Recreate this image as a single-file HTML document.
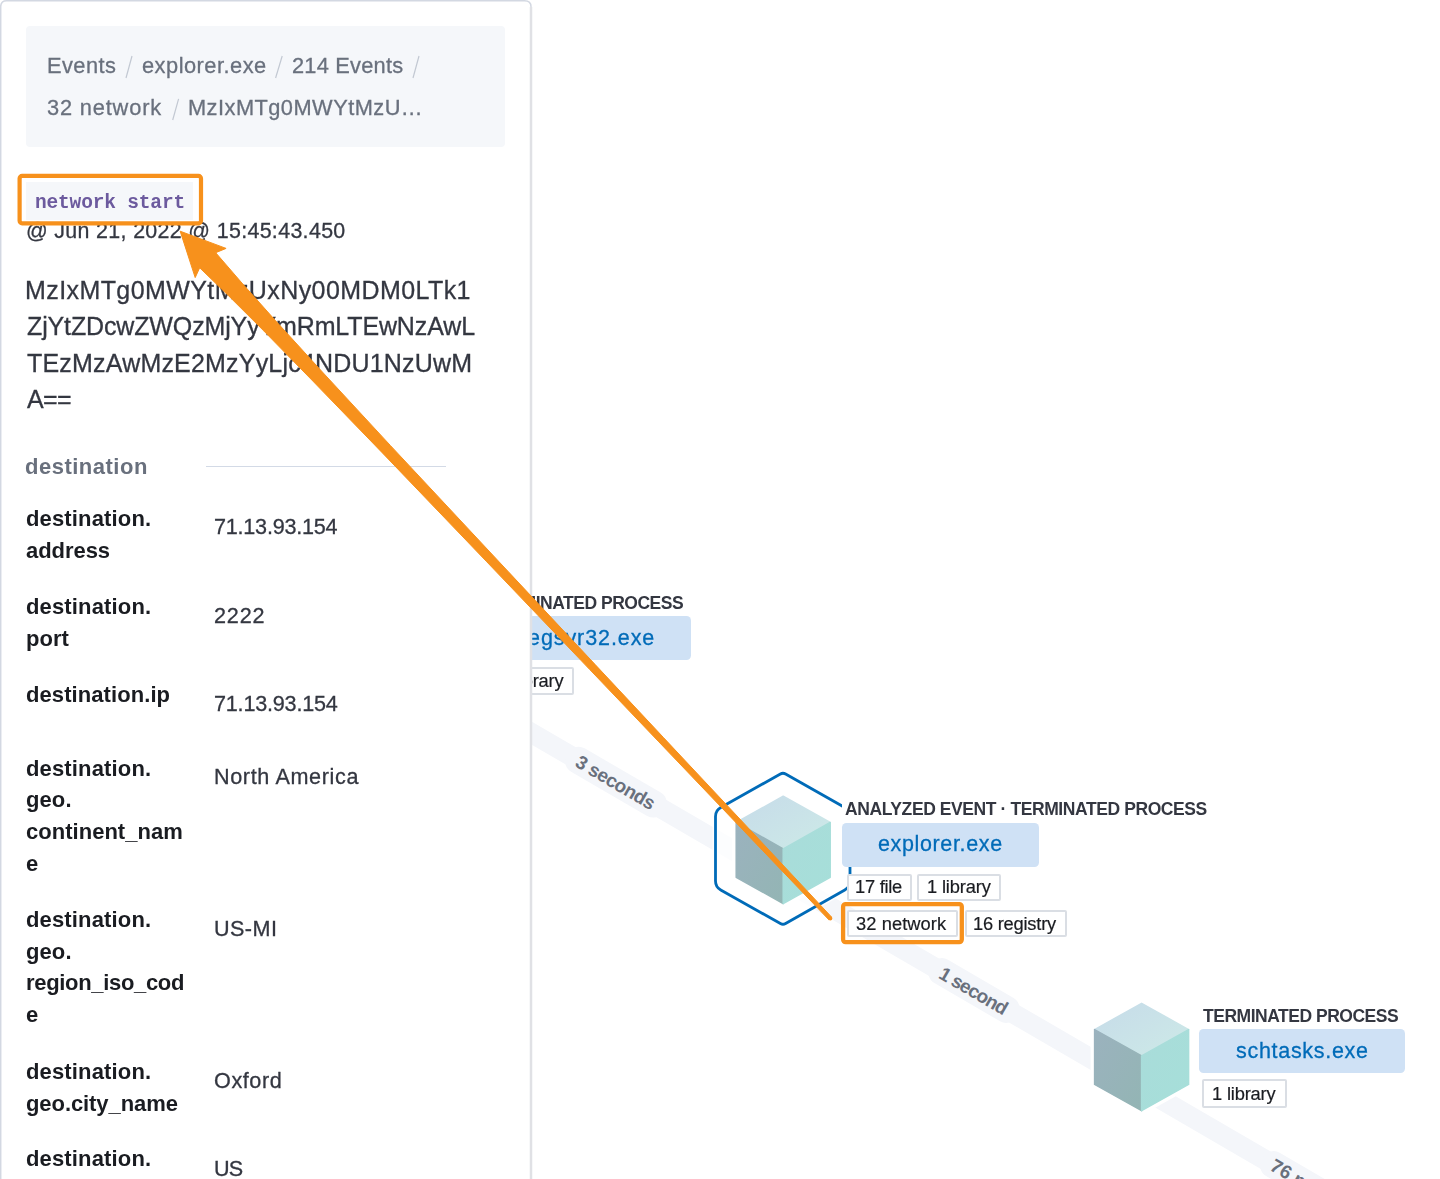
<!DOCTYPE html>
<html><head><meta charset="utf-8"><title>Resolver</title>
<style>
html,body{margin:0;padding:0;}
body{width:1440px;height:1179px;overflow:hidden;background:#ffffff;position:relative;font-family:'Liberation Sans', sans-serif;}
.t{position:absolute;white-space:pre;will-change:transform;}
.abs{position:absolute;}
</style></head><body>
<svg class="abs" style="left:0;top:0" width="1440" height="1179" viewBox="0 0 1440 1179">
<defs>
<linearGradient id="topf" x1="0" y1="0" x2="1" y2="1"><stop offset="0" stop-color="#c6dbe9"/><stop offset="1" stop-color="#cdeae7"/></linearGradient>
<linearGradient id="leftf" x1="0" y1="0" x2="1" y2="1"><stop offset="0" stop-color="#9bb2be"/><stop offset="1" stop-color="#93b5b4"/></linearGradient>
<linearGradient id="rightf" x1="0" y1="0" x2="1" y2="1"><stop offset="0" stop-color="#a9dcda"/><stop offset="1" stop-color="#a6dfd9"/></linearGradient>
</defs>
<line x1="520" y1="726.3" x2="1440" y2="1261.7" stroke="#f4f6fa" stroke-width="20"/>
<g transform="translate(615.9,782.1) rotate(30.2)"><rect x="-56.0" y="-13.5" width="112" height="27" rx="12" fill="#f4f6fa"/><text x="0" y="7" text-anchor="middle" textLength="88.7" lengthAdjust="spacing" font-family="Liberation Sans, sans-serif" font-weight="700" font-size="19" fill="#69707d">3 seconds</text></g>
<g transform="translate(974.0,990.5) rotate(30.2)"><rect x="-50.0" y="-13.5" width="100" height="27" rx="12" fill="#f4f6fa"/><text x="0" y="7" text-anchor="middle" textLength="76.2" lengthAdjust="spacing" font-family="Liberation Sans, sans-serif" font-weight="700" font-size="19" fill="#69707d">1 second</text></g>
<g transform="translate(1310.3,1186.2) rotate(30.2)"><rect x="-55.3" y="-13.5" width="170" height="27" rx="12" fill="#f4f6fa"/><text x="-44.3" y="6.5" font-family="Liberation Sans, sans-serif" font-weight="700" font-size="19" fill="#69707d">76 milliseconds</text></g>
<path d="M780.39,773.97 Q783.00,772.50 785.61,773.98 L844.78,807.54 Q850.00,810.50 850.00,816.50 L850.00,881.00 Q850.00,887.00 844.78,889.96 L785.61,923.52 Q783.00,925.00 780.39,923.53 L720.73,889.94 Q715.50,887.00 715.50,881.00 L715.50,816.50 Q715.50,810.50 720.73,807.56 Z" fill="#ffffff" fill-opacity="0.75" stroke="#ffffff" stroke-opacity="0.8" stroke-width="6" stroke-linejoin="round"/>
<path d="M780.39,773.97 Q783.00,772.50 785.61,773.98 L844.78,807.54 Q850.00,810.50 850.00,816.50 L850.00,881.00 Q850.00,887.00 844.78,889.96 L785.61,923.52 Q783.00,925.00 780.39,923.53 L720.73,889.94 Q715.50,887.00 715.50,881.00 L715.50,816.50 Q715.50,810.50 720.73,807.56 Z" fill="none" stroke="#006bb8" stroke-width="2.8" stroke-linejoin="round"/>
<polygon points="783.2,796.2 830.2,822.5 830.2,877.3 783.2,903.6 736.2,877.3 736.2,822.5" fill="#fff" stroke="#fff" stroke-width="8" stroke-linejoin="round"/><polygon points="783.2,796.2 830.2,822.5 783.2,848.8 736.2,822.5" fill="url(#topf)" stroke="url(#topf)" stroke-width="1.5" stroke-linejoin="round"/><polygon points="736.2,822.5 783.2,848.8 783.2,903.6 736.2,877.3" fill="url(#leftf)" stroke="url(#leftf)" stroke-width="1.5" stroke-linejoin="round"/><polygon points="783.2,848.8 830.2,822.5 830.2,877.3 783.2,903.6" fill="url(#rightf)" stroke="url(#rightf)" stroke-width="1.5" stroke-linejoin="round"/>
<polygon points="1141.6,1003.3 1188.6,1029.6 1188.6,1084.4 1141.6,1110.7 1094.6,1084.4 1094.6,1029.6" fill="#fff" stroke="#fff" stroke-width="8" stroke-linejoin="round"/><polygon points="1141.6,1003.3 1188.6,1029.6 1141.6,1055.9 1094.6,1029.6" fill="url(#topf)" stroke="url(#topf)" stroke-width="1.5" stroke-linejoin="round"/><polygon points="1094.6,1029.6 1141.6,1055.9 1141.6,1110.7 1094.6,1084.4" fill="url(#leftf)" stroke="url(#leftf)" stroke-width="1.5" stroke-linejoin="round"/><polygon points="1141.6,1055.9 1188.6,1029.6 1188.6,1084.4 1141.6,1110.7" fill="url(#rightf)" stroke="url(#rightf)" stroke-width="1.5" stroke-linejoin="round"/>
</svg>
<div class="abs" style="left:842px;top:797px;width:368.00px;height:70.00px;background:#fff;"></div>
<div class="t" style="left:844.60px;top:801.29px;font-size:17.5px;line-height:17.5px;color:#343741;font-weight:700;font-family:'Liberation Sans', sans-serif;letter-spacing:-0.412px;">ANALYZED EVENT · TERMINATED PROCESS</div>
<div class="abs" style="left:842.4px;top:822.5px;width:196.30px;height:44.50px;background:#cfe1f5;border-radius:4.5px;"></div>
<div class="t" style="left:878.20px;top:833.90px;font-size:21.5px;line-height:21.5px;color:#006bb8;font-weight:400;font-family:'Liberation Sans', sans-serif;letter-spacing:0.636px;-webkit-text-stroke:0.3px currentColor;">explorer.exe</div>
<div class="abs" style="left:847px;top:874px;width:65.00px;height:27.00px;background:#fff;box-sizing:border-box;border:2px solid #dadee4;border-radius:2px;"></div>
<div class="t" style="left:855.00px;top:878.01px;font-size:18.3px;line-height:18.3px;color:#1a1c21;font-weight:400;font-family:'Liberation Sans', sans-serif;letter-spacing:-0.250px;-webkit-text-stroke:0.2px currentColor;">17 file</div>
<div class="abs" style="left:917.3px;top:874px;width:83.40px;height:27.00px;background:#fff;box-sizing:border-box;border:2px solid #dadee4;border-radius:2px;"></div>
<div class="t" style="left:926.90px;top:878.01px;font-size:18.3px;line-height:18.3px;color:#1a1c21;font-weight:400;font-family:'Liberation Sans', sans-serif;letter-spacing:-0.150px;-webkit-text-stroke:0.2px currentColor;">1 library</div>
<div class="abs" style="left:847px;top:910.3px;width:110.70px;height:27.20px;background:#fff;box-sizing:border-box;border:2px solid #dadee4;border-radius:2px;"></div>
<div class="t" style="left:855.90px;top:914.81px;font-size:18.3px;line-height:18.3px;color:#1a1c21;font-weight:400;font-family:'Liberation Sans', sans-serif;letter-spacing:0.078px;-webkit-text-stroke:0.2px currentColor;">32 network</div>
<div class="abs" style="left:964.6px;top:910.3px;width:102.40px;height:27.20px;background:#fff;box-sizing:border-box;border:2px solid #dadee4;border-radius:2px;"></div>
<div class="t" style="left:972.50px;top:914.81px;font-size:18.3px;line-height:18.3px;color:#1a1c21;font-weight:400;font-family:'Liberation Sans', sans-serif;letter-spacing:-0.220px;-webkit-text-stroke:0.2px currentColor;">16 registry</div>
<div class="t" style="left:1202.80px;top:1007.99px;font-size:17.5px;line-height:17.5px;color:#343741;font-weight:700;font-family:'Liberation Sans', sans-serif;letter-spacing:-0.482px;">TERMINATED PROCESS</div>
<div class="abs" style="left:1199.2px;top:1029px;width:206.20px;height:44.00px;background:#cfe1f5;border-radius:4.5px;"></div>
<div class="t" style="left:1236.30px;top:1040.80px;font-size:21.5px;line-height:21.5px;color:#006bb8;font-weight:400;font-family:'Liberation Sans', sans-serif;letter-spacing:0.700px;-webkit-text-stroke:0.3px currentColor;">schtasks.exe</div>
<div class="abs" style="left:1202.3px;top:1079.3px;width:84.30px;height:28.70px;background:#fff;box-sizing:border-box;border:2px solid #dadee4;border-radius:2px;"></div>
<div class="t" style="left:1212.40px;top:1084.81px;font-size:18.3px;line-height:18.3px;color:#1a1c21;font-weight:400;font-family:'Liberation Sans', sans-serif;letter-spacing:-0.175px;-webkit-text-stroke:0.2px currentColor;">1 library</div>
<div class="t" style="left:487.70px;top:595.09px;font-size:17.5px;line-height:17.5px;color:#343741;font-weight:700;font-family:'Liberation Sans', sans-serif;letter-spacing:-0.482px;">TERMINATED PROCESS</div>
<div class="abs" style="left:480px;top:616.4px;width:210.50px;height:43.90px;background:#cfe1f5;border-radius:4.5px;"></div>
<div class="t" style="left:520.00px;top:627.60px;font-size:21.5px;line-height:21.5px;color:#006bb8;font-weight:400;font-family:'Liberation Sans', sans-serif;letter-spacing:0.909px;-webkit-text-stroke:0.3px currentColor;">regsvr32.exe</div>
<div class="abs" style="left:490px;top:667px;width:84.00px;height:28.00px;background:#fff;box-sizing:border-box;border:2px solid #dadee4;border-radius:2px;"></div>
<div class="t" style="left:500.15px;top:672.01px;font-size:18.3px;line-height:18.3px;color:#1a1c21;font-weight:400;font-family:'Liberation Sans', sans-serif;letter-spacing:-0.175px;-webkit-text-stroke:0.2px currentColor;">1 library</div>
<div class="abs" style="left:0;top:0;width:531px;height:1179px;background:#fff;border-radius:6px 6px 0 0;"></div>
<svg class="abs" style="left:0;top:0" width="540" height="1179"><path d="M0.7,1179 L0.7,6.7 Q0.7,0.75 6.7,0.75 L524.5,0.75 Q531,0.75 531,6.7 L531,1179" fill="none" stroke="#d3d8e2" stroke-width="1.5"/><line x1="531" y1="7" x2="531" y2="1179" stroke="#e0e1e5" stroke-width="2.5"/></svg>
<div class="abs" style="left:26px;top:26px;width:479.00px;height:120.50px;background:#f5f7fa;border-radius:4px;"></div>
<div class="t" style="left:47.20px;top:54.85px;font-size:21.8px;line-height:21.8px;color:#69707d;font-weight:400;font-family:'Liberation Sans', sans-serif;letter-spacing:0.440px;-webkit-text-stroke:0.3px currentColor;">Events</div>
<div class="t" style="left:141.50px;top:54.85px;font-size:21.8px;line-height:21.8px;color:#69707d;font-weight:400;font-family:'Liberation Sans', sans-serif;letter-spacing:0.500px;-webkit-text-stroke:0.3px currentColor;">explorer.exe</div>
<div class="t" style="left:291.50px;top:54.85px;font-size:21.8px;line-height:21.8px;color:#69707d;font-weight:400;font-family:'Liberation Sans', sans-serif;letter-spacing:0.222px;-webkit-text-stroke:0.3px currentColor;">214 Events</div>
<div class="t" style="left:47.20px;top:97.05px;font-size:21.8px;line-height:21.8px;color:#69707d;font-weight:400;font-family:'Liberation Sans', sans-serif;letter-spacing:0.833px;-webkit-text-stroke:0.3px currentColor;">32 network</div>
<div class="t" style="left:188.00px;top:97.05px;font-size:21.8px;line-height:21.8px;color:#69707d;font-weight:400;font-family:'Liberation Sans', sans-serif;letter-spacing:0.467px;-webkit-text-stroke:0.3px currentColor;">MzIxMTg0MWYtMzU…</div>
<svg class="abs" style="left:0;top:0" width="532" height="200"><line x1="126" y1="78" x2="132" y2="56" stroke="#c2c8d2" stroke-width="1.2"/><line x1="275.6" y1="78" x2="282.2" y2="56" stroke="#c2c8d2" stroke-width="1.2"/><line x1="413" y1="78" x2="419" y2="56" stroke="#c2c8d2" stroke-width="1.2"/><line x1="172.7" y1="120" x2="178.6" y2="98.8" stroke="#c2c8d2" stroke-width="1.2"/></svg>
<div class="abs" style="left:26px;top:181.5px;width:167.00px;height:38.50px;background:#f5f7fa;"></div>
<div class="t" style="left:35.00px;top:193.55px;font-size:19.5px;line-height:19.5px;color:#6c5a9e;font-weight:700;font-family:'Liberation Mono', monospace;letter-spacing:-0.167px;">network start</div>
<div class="t" style="left:25.50px;top:221.28px;font-size:21.4px;line-height:21.4px;color:#343741;font-weight:400;font-family:'Liberation Sans', sans-serif;letter-spacing:0.336px;-webkit-text-stroke:0.3px currentColor;">@ Jun 21, 2022 @ 15:45:43.450</div>
<div class="t" style="left:24.80px;top:277.64px;font-size:25px;line-height:25px;color:#343741;font-weight:400;font-family:'Liberation Sans', sans-serif;letter-spacing:0.415px;-webkit-text-stroke:0.3px currentColor;">MzIxMTg0MWYtMzUxNy00MDM0LTk1</div>
<div class="t" style="left:26.80px;top:314.34px;font-size:25px;line-height:25px;color:#343741;font-weight:400;font-family:'Liberation Sans', sans-serif;letter-spacing:-0.136px;-webkit-text-stroke:0.3px currentColor;">ZjYtZDcwZWQzMjYyYmRmLTEwNzAwL</div>
<div class="t" style="left:26.80px;top:351.04px;font-size:25px;line-height:25px;color:#343741;font-weight:400;font-family:'Liberation Sans', sans-serif;letter-spacing:0.193px;-webkit-text-stroke:0.3px currentColor;">TEzMzAwMzE2MzYyLjc4NDU1NzUwM</div>
<div class="t" style="left:26.80px;top:387.04px;font-size:25px;line-height:25px;color:#343741;font-weight:400;font-family:'Liberation Sans', sans-serif;letter-spacing:-0.600px;-webkit-text-stroke:0.3px currentColor;">A==</div>
<div class="t" style="left:25.30px;top:455.68px;font-size:22px;line-height:22px;color:#69707d;font-weight:700;font-family:'Liberation Sans', sans-serif;letter-spacing:0.500px;">destination</div>
<div class="abs" style="left:206px;top:465.5px;width:240.00px;height:1.00px;background:#d3dae6;"></div>
<div class="t" style="left:25.70px;top:508.28px;font-size:22px;line-height:22px;color:#1a1c21;font-weight:700;font-family:'Liberation Sans', sans-serif;letter-spacing:0.155px;">destination.</div>
<div class="t" style="left:25.70px;top:539.88px;font-size:22px;line-height:22px;color:#1a1c21;font-weight:700;font-family:'Liberation Sans', sans-serif;letter-spacing:-0.050px;">address</div>
<div class="t" style="left:25.70px;top:595.63px;font-size:22px;line-height:22px;color:#1a1c21;font-weight:700;font-family:'Liberation Sans', sans-serif;letter-spacing:0.155px;">destination.</div>
<div class="t" style="left:25.70px;top:627.88px;font-size:22px;line-height:22px;color:#1a1c21;font-weight:700;font-family:'Liberation Sans', sans-serif;letter-spacing:0.017px;">port</div>
<div class="t" style="left:25.70px;top:684.38px;font-size:22px;line-height:22px;color:#1a1c21;font-weight:700;font-family:'Liberation Sans', sans-serif;letter-spacing:0.081px;">destination.ip</div>
<div class="t" style="left:25.70px;top:757.63px;font-size:22px;line-height:22px;color:#1a1c21;font-weight:700;font-family:'Liberation Sans', sans-serif;letter-spacing:0.155px;">destination.</div>
<div class="t" style="left:25.70px;top:789.38px;font-size:22px;line-height:22px;color:#1a1c21;font-weight:700;font-family:'Liberation Sans', sans-serif;letter-spacing:0.100px;">geo.</div>
<div class="t" style="left:25.70px;top:821.13px;font-size:22px;line-height:22px;color:#1a1c21;font-weight:700;font-family:'Liberation Sans', sans-serif;letter-spacing:0.025px;">continent_nam</div>
<div class="t" style="left:25.70px;top:853.13px;font-size:22px;line-height:22px;color:#1a1c21;font-weight:700;font-family:'Liberation Sans', sans-serif;">e</div>
<div class="t" style="left:25.70px;top:908.88px;font-size:22px;line-height:22px;color:#1a1c21;font-weight:700;font-family:'Liberation Sans', sans-serif;letter-spacing:0.155px;">destination.</div>
<div class="t" style="left:25.70px;top:941.13px;font-size:22px;line-height:22px;color:#1a1c21;font-weight:700;font-family:'Liberation Sans', sans-serif;letter-spacing:0.100px;">geo.</div>
<div class="t" style="left:25.70px;top:972.38px;font-size:22px;line-height:22px;color:#1a1c21;font-weight:700;font-family:'Liberation Sans', sans-serif;letter-spacing:-0.323px;">region_iso_cod</div>
<div class="t" style="left:25.70px;top:1004.38px;font-size:22px;line-height:22px;color:#1a1c21;font-weight:700;font-family:'Liberation Sans', sans-serif;">e</div>
<div class="t" style="left:25.70px;top:1060.63px;font-size:22px;line-height:22px;color:#1a1c21;font-weight:700;font-family:'Liberation Sans', sans-serif;letter-spacing:0.155px;">destination.</div>
<div class="t" style="left:25.70px;top:1092.63px;font-size:22px;line-height:22px;color:#1a1c21;font-weight:700;font-family:'Liberation Sans', sans-serif;letter-spacing:-0.079px;">geo.city_name</div>
<div class="t" style="left:25.70px;top:1148.13px;font-size:22px;line-height:22px;color:#1a1c21;font-weight:700;font-family:'Liberation Sans', sans-serif;letter-spacing:0.155px;">destination.</div>
<div class="t" style="left:214.30px;top:516.22px;font-size:21.6px;line-height:21.6px;color:#343741;font-weight:400;font-family:'Liberation Sans', sans-serif;letter-spacing:-0.227px;-webkit-text-stroke:0.3px currentColor;">71.13.93.154</div>
<div class="t" style="left:214.30px;top:605.22px;font-size:21.6px;line-height:21.6px;color:#343741;font-weight:400;font-family:'Liberation Sans', sans-serif;letter-spacing:0.817px;-webkit-text-stroke:0.3px currentColor;">2222</div>
<div class="t" style="left:214.30px;top:692.72px;font-size:21.6px;line-height:21.6px;color:#343741;font-weight:400;font-family:'Liberation Sans', sans-serif;letter-spacing:-0.209px;-webkit-text-stroke:0.3px currentColor;">71.13.93.154</div>
<div class="t" style="left:214.30px;top:766.12px;font-size:21.6px;line-height:21.6px;color:#343741;font-weight:400;font-family:'Liberation Sans', sans-serif;letter-spacing:0.633px;-webkit-text-stroke:0.3px currentColor;">North America</div>
<div class="t" style="left:214.30px;top:917.97px;font-size:21.6px;line-height:21.6px;color:#343741;font-weight:400;font-family:'Liberation Sans', sans-serif;letter-spacing:0.425px;-webkit-text-stroke:0.3px currentColor;">US-MI</div>
<div class="t" style="left:214.30px;top:1069.72px;font-size:21.6px;line-height:21.6px;color:#343741;font-weight:400;font-family:'Liberation Sans', sans-serif;letter-spacing:0.590px;-webkit-text-stroke:0.3px currentColor;">Oxford</div>
<div class="t" style="left:214.30px;top:1158.22px;font-size:21.6px;line-height:21.6px;color:#343741;font-weight:400;font-family:'Liberation Sans', sans-serif;letter-spacing:-0.800px;-webkit-text-stroke:0.3px currentColor;">US</div>
<svg class="abs" style="left:0;top:0" width="1440" height="1179" viewBox="0 0 1440 1179">
<rect x="19.6" y="175.9" width="181.4" height="47.4" rx="2.5" fill="none" stroke="#f7911c" stroke-width="4.2"/>
<rect x="843.1" y="904.1" width="118.7" height="38" rx="2.5" fill="none" stroke="#f7911c" stroke-width="4.3"/>
<polygon points="180.2,231.2 226.1,248.4 215.7,252.7 241.9,283.0 275.2,320.3 322.4,372.0 390.3,445.4 492.7,555.0 595.2,664.6 663.5,737.6 766.1,847.0 831.7,917.2 828.9,919.8 762.5,850.4 658.9,741.9 589.8,669.6 486.2,561.2 382.4,452.9 312.8,381.0 263.9,331.0 228.5,295.7 199.7,267.8 195.2,277.6" fill="#f7911c" stroke="#f7911c" stroke-width="1" stroke-linejoin="round"/>
<circle cx="830.3" cy="918.5" r="2.0" fill="#f7911c"/>
</svg>
</body></html>
